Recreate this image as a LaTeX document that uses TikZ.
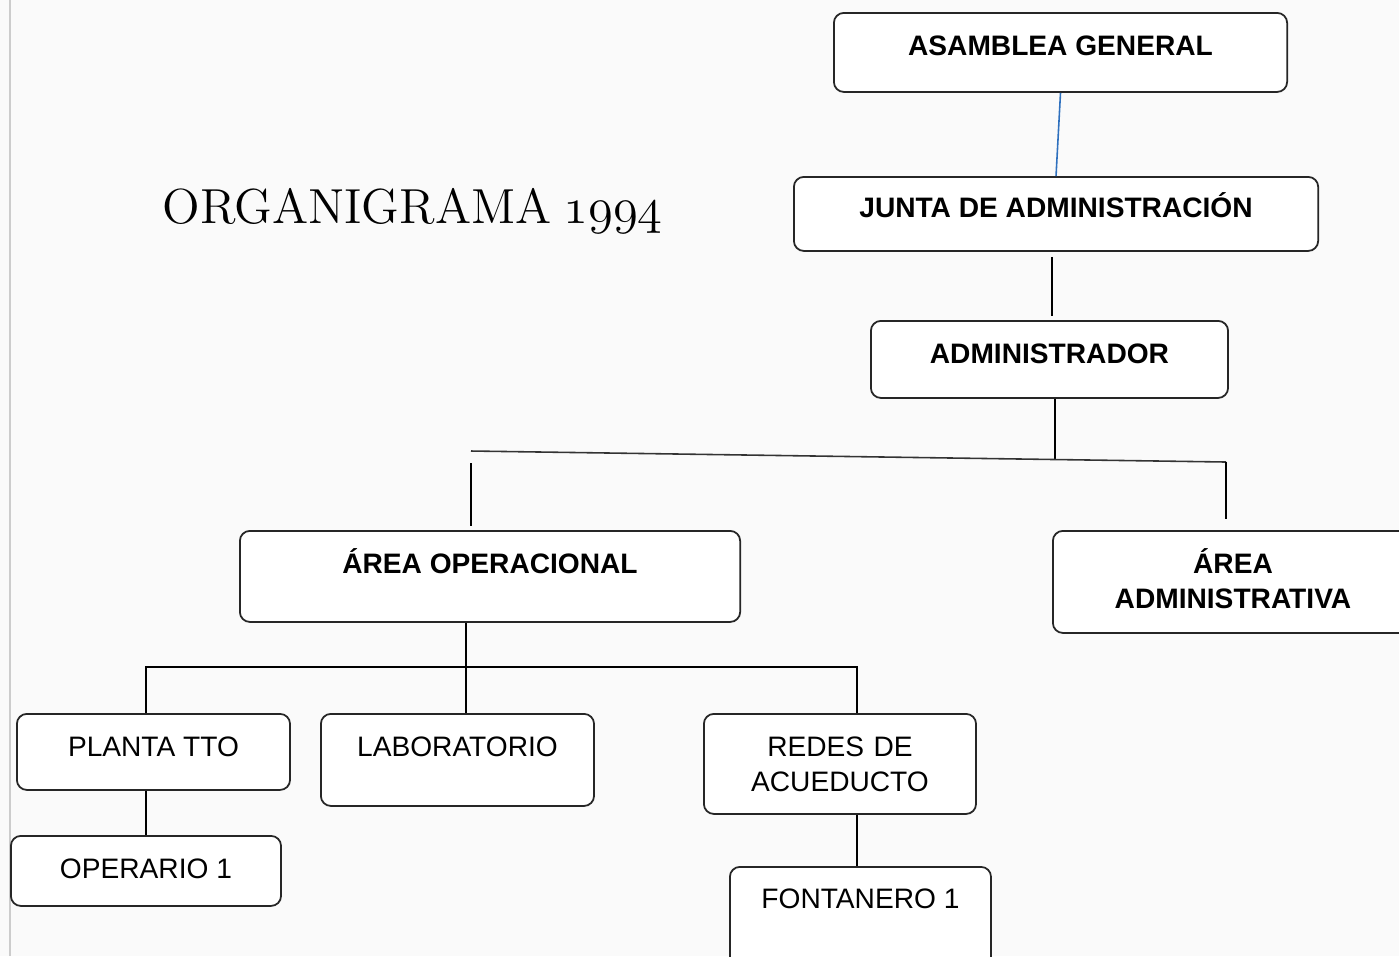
\documentclass[tikz,border=0pt]{standalone}
\usepackage{fontspec}
\newfontfamily\boxfont{Liberation Sans}
\definecolor{linkblue}{RGB}{46,112,190}
\definecolor{paper}{RGB}{250,250,250}

\begin{document}
\begin{tikzpicture}
  [x=0.01cm, y=-0.01cm,
   orgbox/.style={draw=black!85, line width=0.5pt, fill=white, rounded corners=0.1cm,
     anchor=north west, inner ysep=0pt, font=\boxfont\fontsize{8}{9.9}\selectfont},
   boldbox/.style={orgbox, font=\boxfont\bfseries\fontsize{8}{9.9}\selectfont},
   link/.style={line width=0.45pt}]
  \useasboundingbox (0,0) rectangle (1399,956);
  \fill[paper] (0,0) rectangle (1399,956);
  \draw[black!20, line width=0.8pt] (10,0) -- (10,956);

  \node[anchor=base west, inner sep=0pt, font=\fontsize{14}{17}\selectfont] (title)
    at (162,223) {ORGANIGRAMA\hspace{0.12cm}{\fontsize{14.5}{17}\usefont{OML}{cmm}{m}{it}1994}};

  % upper levels
  \node[boldbox, minimum width=4.53cm, text height=0.43cm, text depth=0.36cm] (asamblea)
    at (833,12) {ASAMBLEA GENERAL};
  \node[boldbox, minimum width=5.24cm, text height=0.41cm, text depth=0.33cm] (junta)
    at (793,176) {JUNTA DE ADMINISTRACIÓN};
  \node[boldbox, minimum width=3.57cm, text height=0.43cm, text depth=0.34cm] (admin)
    at (870,320) {ADMINISTRADOR};

  % areas
  \node[boldbox, minimum width=5.00cm, text height=0.43cm, text depth=0.48cm] (operacional)
    at (239,530) {ÁREA OPERACIONAL};
  \node[boldbox, minimum width=3.60cm, text width=3.3cm, align=center,
    text height=0.43cm, text depth=0.59cm] (administrativa)
    at (1052,530) {ÁREA\\ADMINISTRATIVA};

  % sections
  \node[orgbox, minimum width=2.73cm, text height=0.43cm, text depth=0.33cm] (planta)
    at (16,713) {PLANTA TTO};
  \node[orgbox, minimum width=2.73cm, text height=0.43cm, text depth=0.49cm] (lab)
    at (320,713) {LABORATORIO};
  \node[orgbox, minimum width=2.72cm, text width=2.4cm, align=center,
    text height=0.43cm, text depth=0.57cm] (redes)
    at (703,713) {REDES DE\\ACUEDUCTO};
  \node[orgbox, minimum width=2.70cm, text height=0.43cm, text depth=0.27cm] (operario)
    at (10,835) {OPERARIO 1};
  \node[orgbox, minimum width=2.61cm, text height=0.42cm, text depth=0.67cm] (fontanero)
    at (729,866) {FONTANERO 1};

  % connectors
  \coordinate (spine) at (1052,0);
  \coordinate (bus) at (1055,460);
  \coordinate (splitL) at (471,451);
  \coordinate (splitR) at (1226,462);
  \coordinate (opbus) at (466,667);
  \coordinate (opL) at (146,667);
  \coordinate (opR) at (857,667);
  \draw[link, linkblue] (asamblea.south) -- (junta.north);
  \draw[link, shorten <=0.05cm, shorten >=0.04cm] (junta.south -| spine) -- (admin.north -| spine);
  \draw[link] (admin.south -| bus) -- (bus);
  \draw[link, black!80] (splitL) -- (splitR);
  \draw[link, shorten <=0.12cm, shorten >=0.04cm] (splitL) -- (splitL |- operacional.north);
  \draw[link, shorten >=0.11cm] (splitR) -- (splitR |- administrativa.north);
  \draw[link] (opbus |- operacional.south) -- (opbus |- lab.north);
  \draw[link] (opL |- planta.north) -- (opL) -- (opR) -- (opR |- redes.north);
  \draw[link] (opL |- planta.south) -- (opL |- operario.north);
  \draw[link] (opR |- redes.south) -- (opR |- fontanero.north);
\end{tikzpicture}
\end{document}
